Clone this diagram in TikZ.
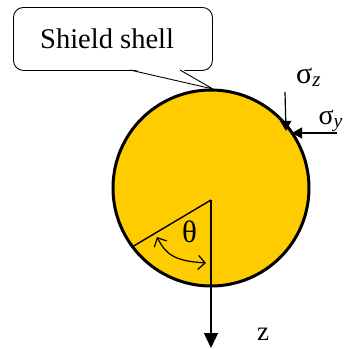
\documentclass[tikz,border=0pt]{standalone}
\usepackage{fontspec}
\setmainfont{Liberation Serif}
\usetikzlibrary{arrows.meta}
\definecolor{shellgold}{RGB}{255,204,0}
\begin{document}
\begin{tikzpicture}[x=1pt,y=-1pt,
  lbl/.style={inner sep=0pt,font=\fontsize{27}{30}\selectfont},
  siglbl/.style={inner sep=0pt,font=\fontsize{30}{32}\selectfont},
  bigarrow/.style={line width=1.4pt,-{Triangle[length=15pt,width=14pt]}},
  smallarrow/.style={line width=1.2pt,-{Triangle[length=10pt,width=11pt]}},
  anglearrow/.style={line width=1.2pt,{Straight Barb[length=7pt,width=14pt]}-{Straight Barb[length=7pt,width=14pt]}}]
\useasboundingbox (0,0) rectangle (344,349);
% shell
\coordinate (c) at (211,188);
\draw[line width=3pt,fill=shellgold] (c) circle (98pt);
% angle
\coordinate (apex) at (211,200);
\coordinate (rim) at (132,247);
\coordinate (zend) at (211,348);
\draw[line width=1.4pt] (rim) -- (apex);
\draw[bigarrow] (apex) -- (zend);
\node[lbl,font=\fontsize{31}{32}\selectfont,anchor=base west] (theta) at (182,242) {θ};
\coordinate (b1) at (157,237);
\coordinate (b2) at (206,263);
\draw[anglearrow] (b1) .. controls (167,257) and (178,261) .. (b2);
\node[lbl,anchor=base west] (zlab) at (257,340) {z};
% stresses
\coordinate (szs) at (285,92);
\coordinate (szt) at (286,131);
\coordinate (sys) at (337,133);
\coordinate (syt) at (292,133);
\draw[smallarrow] (szs) -- (szt);
\draw[smallarrow] (sys) -- (syt);
\node[siglbl,anchor=base west] (sz) at (296,83) {σ\textsubscript{\itshape z}};
\node[siglbl,font=\fontsize{28}{30}\selectfont,anchor=base east] (sy) at (343,124) {σ\textsubscript{\itshape y}};
% callout
\node[draw,line width=0.9pt,rounded corners=10pt,minimum width=199pt,minimum height=63pt,inner sep=0pt,anchor=north west,fill=white] (callout) at (13,7) {};
\node[lbl,font=\fontsize{28.5}{30}\selectfont,anchor=base west] (ctext) at (40,48) {Shield shell};
\coordinate (p1) at (130,70);
\coordinate (p2) at (180,70);
\coordinate (ptip) at (213,89);
\fill[white] (129,68.5) -- (ptip) -- (181,68.5) -- cycle;
\draw[line width=0.9pt] (p1) -- (ptip) -- (p2);
\end{tikzpicture}
\end{document}
